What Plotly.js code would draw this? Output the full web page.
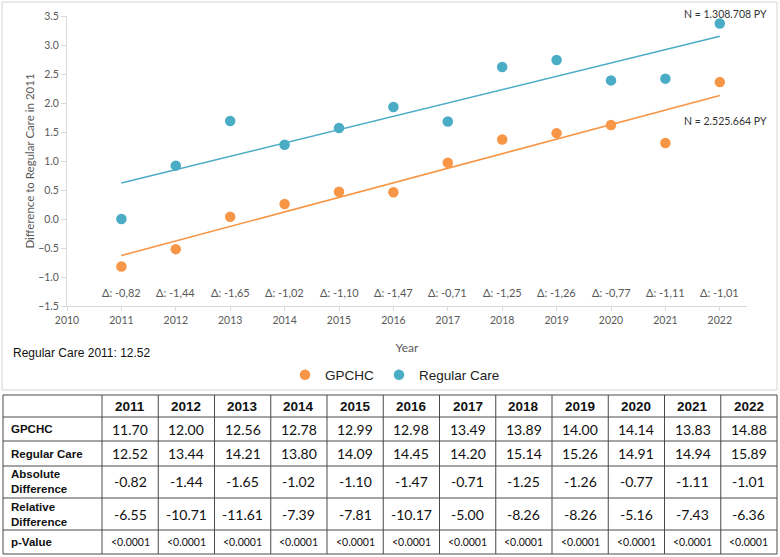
<!DOCTYPE html>
<html>
<head>
<meta charset="utf-8">
<script src="https://cdn.plot.ly/plotly-3.0.1.min.js"></script>
<style>
  html, body { margin: 0; padding: 0; background: #ffffff; }
  #chart { width: 780px; height: 557px; }
</style>
</head>
<body>
<div id="chart"></div>
<script>
// Yearly means for both groups
const years = [2011, 2012, 2013, 2014, 2015, 2016, 2017, 2018, 2019, 2020, 2021, 2022];
const gpchc = [11.70, 12.00, 12.56, 12.78, 12.99, 12.98, 13.49, 13.89, 14.00, 14.14, 13.83, 14.88];
const regularCare = [12.52, 13.44, 14.21, 13.80, 14.09, 14.45, 14.20, 15.14, 15.26, 14.91, 14.94, 15.89];
const absoluteDiff = [-0.82, -1.44, -1.65, -1.02, -1.10, -1.47, -0.71, -1.25, -1.26, -0.77, -1.11, -1.01];
const relativeDiff = [-6.55, -10.71, -11.61, -7.39, -7.81, -10.17, -5.00, -8.26, -8.26, -5.16, -7.43, -6.36];
const pValues = ['<0.0001', '<0.0001', '<0.0001', '<0.0001', '<0.0001', '<0.0001',
                 '<0.0001', '<0.0001', '<0.0001', '<0.0001', '<0.0001', '<0.0001'];

// Linear trend lines (end points at 2011 and 2022)
const trendYears = [2011, 2022];
const gpchcTrend = [-0.63, 2.13];
const regularTrend = [0.62, 3.15];

// Person-years per group
const gpchcN = 'N = 2.525.664 PY';
const regularN = 'N = 1.308.708 PY';

const rowLabels = ['GPCHC', 'Regular Care', 'Absolute<br>Difference', 'Relative<br>Difference', 'p-Value'];

// Both series are shown relative to Regular Care in 2011
const baseline = regularCare[0];
const gpchcDelta = gpchc.map(v => +(v - baseline).toFixed(2));
const regularDelta = regularCare.map(v => +(v - baseline).toFixed(2));

const ORANGE = '#F79646';
const BLUE = '#4BACC6';
const AXIS_GREY = '#d9d9d9';
const TEXT_GREY = '#595959';
const chartFont = 'Lato, "Open Sans", sans-serif';
const sansFont = '"Liberation Sans", Arial, sans-serif';

// page pixel -> paper fraction (margins are zero, so paper = page)
const W = 780, H = 557;
const px = x => x / W;
const py = y => 1 - y / H;

const traces = [
  { x: trendYears, y: gpchcTrend, mode: 'lines', line: { color: ORANGE, width: 1.6 },
    showlegend: false, hoverinfo: 'skip' },
  { x: trendYears, y: regularTrend, mode: 'lines', line: { color: BLUE, width: 1.6 },
    showlegend: false, hoverinfo: 'skip' },
  { x: years, y: gpchcDelta, mode: 'markers', name: 'GPCHC',
    marker: { color: ORANGE, size: 10.5 } },
  { x: years, y: regularDelta, mode: 'markers', name: 'Regular Care',
    marker: { color: BLUE, size: 10.5 } }
];

const annotations = [];
const note = (o) => annotations.push(Object.assign({ showarrow: false, xanchor: 'center', yanchor: 'middle' }, o));

// Δ labels along the bottom of the plot
years.forEach((yr, i) => note({
  x: yr, y: -1.26, xref: 'x', yref: 'y',
  text: 'Δ: ' + absoluteDiff[i].toFixed(2).replace('.', ','),
  font: { family: chartFont, size: 11, color: TEXT_GREY }
}));

// Sample sizes next to the last points
note({ x: 2022.1, y: py(14), xref: 'x', yref: 'paper', text: regularN,
  font: { family: chartFont, size: 10.5, color: '#333333' } });
note({ x: 2022.1, y: py(121), xref: 'x', yref: 'paper', text: gpchcN,
  font: { family: chartFont, size: 10.5, color: '#333333' } });

// Baseline note
note({ x: px(11), y: py(353), xref: 'paper', yref: 'paper', xanchor: 'left',
  text: 'Regular Care 2011: ' + baseline.toFixed(2),
  font: { family: sansFont, size: 12, color: '#111111' } });

// ---- table ----
const colX = [3, 102];
for (let i = 1; i <= years.length; i++) colX.push(102 + i * (777 - 102) / years.length);
const rowY = [395, 417, 441, 466, 498, 530, 554];

const shapes = [];
// chart frame
shapes.push({ type: 'rect', xref: 'paper', yref: 'paper', x0: px(2), x1: px(777), y0: py(2), y1: py(390),
  line: { color: '#d4d4d4', width: 1 }, fillcolor: 'rgba(0,0,0,0)' });
rowY.forEach(y => shapes.push({ type: 'line', xref: 'paper', yref: 'paper',
  x0: px(colX[0]), x1: px(colX[colX.length - 1]), y0: py(y), y1: py(y),
  line: { color: '#4a4a4a', width: 1 } }));
colX.forEach(x => shapes.push({ type: 'line', xref: 'paper', yref: 'paper',
  x0: px(x), x1: px(x), y0: py(rowY[0]), y1: py(rowY[rowY.length - 1]),
  line: { color: '#4a4a4a', width: 1 } }));

const rowMid = r => py((rowY[r] + rowY[r + 1]) / 2);
const colMid = c => px((colX[c] + colX[c + 1]) / 2);

// header row
years.forEach((yr, i) => note({ x: colMid(i + 1), y: rowMid(0), xref: 'paper', yref: 'paper',
  text: '<b>' + yr + '</b>', font: { family: sansFont, size: 13.5, color: '#111111' } }));

// row labels
rowLabels.forEach((lab, r) => note({ x: px(9), y: rowMid(r + 1), xref: 'paper', yref: 'paper',
  xanchor: 'left', align: 'left', text: '<b>' + lab.split('<br>').join('</b><br><b>') + '</b>',
  font: { family: sansFont, size: 11.5, color: '#111111' } }));

// body values
const bodyRows = [
  gpchc.map(v => v.toFixed(2)),
  regularCare.map(v => v.toFixed(2)),
  absoluteDiff.map(v => v.toFixed(2)),
  relativeDiff.map(v => v.toFixed(2)),
  pValues
];
bodyRows.forEach((row, r) => row.forEach((txt, c) => note({
  x: colMid(c + 1), y: rowMid(r + 1), xref: 'paper', yref: 'paper', text: txt,
  font: { family: chartFont, size: r === 4 ? 10.5 : 14, color: '#111111' } })));

const layout = {
  width: W, height: H,
  margin: { l: 0, r: 0, t: 0, b: 0 },
  paper_bgcolor: '#ffffff', plot_bgcolor: '#ffffff',
  xaxis: {
    domain: [px(67), px(747)], range: [2010, 2022.5], tick0: 2010, dtick: 1,
    showgrid: false, zeroline: false, showline: true, linecolor: AXIS_GREY, linewidth: 1,
    ticks: 'outside', ticklen: 4, tickcolor: AXIS_GREY,
    tickfont: { family: chartFont, size: 10.5, color: TEXT_GREY },
    title: { text: 'Year', font: { family: chartFont, size: 12, color: TEXT_GREY } }
  },
  yaxis: {
    domain: [py(306), py(16)], range: [-1.5, 3.5], dtick: 0.5, tickformat: '.1f',
    showgrid: false, zeroline: false, showline: true, linecolor: AXIS_GREY, linewidth: 1,
    ticks: 'outside', ticklen: 5, tickcolor: AXIS_GREY,
    tickfont: { family: chartFont, size: 10.5, color: TEXT_GREY },
    title: { text: 'Difference to Regular Care in 2011', font: { family: chartFont, size: 11.5, color: TEXT_GREY } }
  },
  legend: {
    orientation: 'h', x: px(395), xanchor: 'center', y: py(375), yanchor: 'middle',
    font: { family: sansFont, size: 13.5, color: '#222222' }, bgcolor: 'rgba(0,0,0,0)'
  },
  annotations: annotations,
  shapes: shapes
};

Plotly.newPlot('chart', traces, layout, { displayModeBar: false, staticPlot: true });
</script>
</body>
</html>
